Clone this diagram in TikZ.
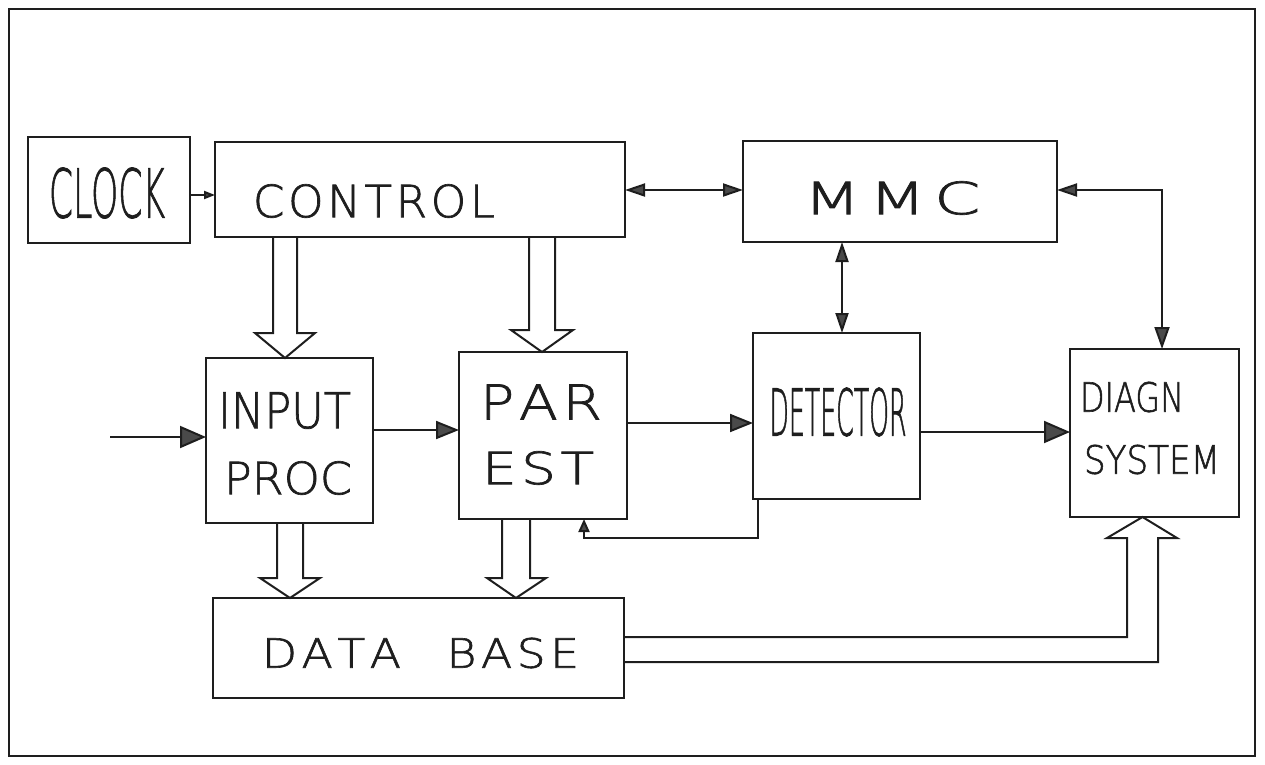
\documentclass[tikz,border=0pt]{standalone}
\usepackage{fontspec}
\setmainfont{DejaVu Sans ExtraLight}[FakeBold=1.5]
\usepackage{graphicx}
\usetikzlibrary{arrows.meta}
\definecolor{ink}{HTML}{1E1E1E}
\definecolor{headc}{HTML}{4A4A4A}
\newcommand\fitt[3]{\resizebox{#1pt}{#2pt}{#3}}
\begin{document}
\begin{tikzpicture}[x=1pt,y=-1pt,
  box/.style={draw=ink, line width=2.2pt, rectangle, inner sep=0pt, outer sep=0pt},
  txt/.style={inner sep=0pt, outer sep=0pt, text=ink},
  wire/.style={draw=ink, line width=2pt},
  hollow/.style={draw=ink, line width=2pt, line join=miter},
  bigtip/.style={-{Triangle[length=26pt,width=22pt,fill=headc]}},
  midtip/.style={-{Triangle[length=23pt,width=18pt,fill=headc]}},
  dbltip/.style={{Triangle[length=20pt,width=13pt,fill=headc]}-{Triangle[length=20pt,width=13pt,fill=headc]}},
  smalltip/.style={-{Triangle[length=11pt,width=8pt,fill=headc]}}
]
\useasboundingbox (0,0) rectangle (1265,764);
% frame
\draw[draw=ink, line width=2.2pt] (9,9) rectangle (1255,756);

% boxes
\node[box, minimum width=162pt, minimum height=106pt] (clock) at (109,190) {};
\node[box, minimum width=410pt, minimum height=95pt] (ctrl) at (420,189.5) {};
\node[box, minimum width=314pt, minimum height=101pt] (mmc) at (900,191.5) {};
\node[box, minimum width=167pt, minimum height=165pt] (inp) at (289.5,440.5) {};
\node[box, minimum width=168pt, minimum height=167pt] (par) at (543,435.5) {};
\node[box, minimum width=167pt, minimum height=166pt] (det) at (836.5,416) {};
\node[box, minimum width=169pt, minimum height=168pt] (diag) at (1154.5,433) {};
\node[box, minimum width=411pt, minimum height=100pt] (db) at (418.5,648) {};

% texts
\node[txt] (clockt) at (107,193) {\fitt{116}{50}{CLOCK}};
\node[txt] (ctrlt) at (374,201) {\fitt{242}{33}{C\hspace{.08em}O\hspace{.08em}N\hspace{.08em}T\hspace{.08em}R\hspace{.08em}O\hspace{.08em}L}};
\node[txt] (mmct) at (892,198) {\fitt{177}{33}{M\hspace{.12em}M\hspace{.12em}C}};
\node[txt] (inpt1) at (284.5,410.5) {\fitt{133}{36}{INPUT}};
\node[txt] (inpt2) at (288,478) {\fitt{128}{33}{PROC}};
\node[txt] (part1) at (541,402) {\fitt{122}{35}{P\hspace{.08em}A\hspace{.08em}R}};
\node[txt] (part2) at (538,468) {\fitt{112}{33}{E\hspace{.08em}S\hspace{.08em}T}};
\node[txt] (dett) at (838,412) {\fitt{137}{48}{DETECTOR}};
\node[txt] (diagt1) at (1132,397) {\fitt{104}{30}{DIAGN}};
\node[txt] (diagt2) at (1152,459.5) {\fitt{136}{29}{SYSTEM}};
\node[txt] (dbt) at (420.5,653) {\fitt{317}{30}{D\hspace{.1em}A\hspace{.1em}T\hspace{.1em}A\hspace{1em}B\hspace{.1em}A\hspace{.1em}S\hspace{.1em}E}};

% thin connectors
\draw[wire, smalltip] (clock.east |- 0,195) -- (ctrl.west |- 0,195);
\draw[wire, dbltip] (ctrl.east |- 0,190) -- (mmc.west |- 0,190);
\draw[wire, dbltip] (842,0 |- mmc.south) -- (842,0 |- det.north);
\draw[wire, {Triangle[length=20pt,width=13pt,fill=headc]}-{Triangle[length=22pt,width=15pt,fill=headc]}]
  (mmc.east |- 0,190) -- (1162,190) -- (1162,0 |- diag.north);
\coordinate (src) at (110,437);
\draw[wire, bigtip] (src) -- (inp.west |- src);
\draw[wire, midtip] (inp.east |- 0,430) -- (par.west |- 0,430);
\draw[wire, midtip] (par.east |- 0,423) -- (det.west |- 0,423);
\draw[wire, bigtip] (det.east |- 0,432) -- (diag.west |- 0,432);
\draw[wire, -{Triangle[length=13pt,width=11pt,fill=headc]}]
  (758,0 |- det.south) -- (758,538) -- (584,538) -- (584,0 |- par.south);

% hollow (bus) arrows
\draw[hollow] (273,0 |- ctrl.south) -- (273,333) -- (255,333) -- (285,0 |- inp.north)
  -- (315,333) -- (297,333) -- (297,0 |- ctrl.south);
\draw[hollow] (529,0 |- ctrl.south) -- (529,330) -- (511,330) -- (542,0 |- par.north)
  -- (573,330) -- (555,330) -- (555,0 |- ctrl.south);
\draw[hollow] (277,0 |- inp.south) -- (277,578) -- (260,578) -- (290,0 |- db.north)
  -- (320,578) -- (303,578) -- (303,0 |- inp.south);
\draw[hollow] (502,0 |- par.south) -- (502,578) -- (487,578) -- (516,0 |- db.north)
  -- (546,578) -- (530,578) -- (530,0 |- par.south);
\draw[hollow] (db.east |- 0,662) -- (1158,662) -- (1158,538) -- (1177,538)
  -- (1142.5,0 |- diag.south) -- (1107,538) -- (1127,538) -- (1127,637) -- (db.east |- 0,637);
\end{tikzpicture}
\end{document}
